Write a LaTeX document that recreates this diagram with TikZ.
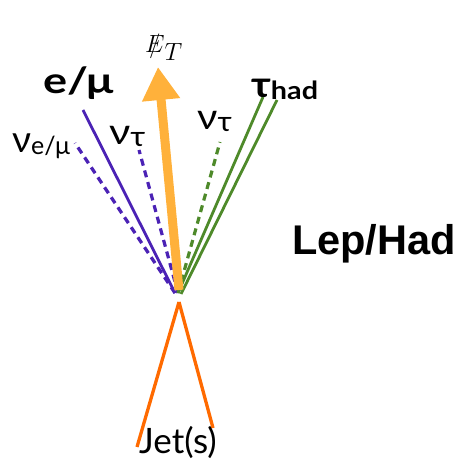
\documentclass[tikz,border=0pt]{standalone}
\usepackage{fontspec}
\setmainfont{Lato}
\newfontfamily\arialb{Liberation Sans}
\usetikzlibrary{arrows.meta}
\definecolor{lepcol}{HTML}{4B22B5}
\definecolor{hadcol}{HTML}{4E8A2A}
\definecolor{metcol}{HTML}{FFB13B}
\definecolor{jetcol}{HTML}{FF6A00}
\begin{document}
\begin{tikzpicture}[x=1pt,y=-1pt,
  lepline/.style={draw=lepcol,line width=2.8pt},
  lepdash/.style={draw=lepcol,line width=3.2pt,dash pattern=on 7pt off 5pt},
  hadline/.style={draw=hadcol,line width=2.8pt},
  haddash/.style={draw=hadcol,line width=3.2pt,dash pattern=on 7pt off 5pt},
  jetline/.style={draw=jetcol,line width=3.3pt},
  metarrow/.style={draw=metcol,line width=9pt,-{Triangle[length=33pt,width=36pt]}},
  lbl/.style={inner sep=0pt,anchor=base west}]
\useasboundingbox (0,0) rectangle (460,462);
% vertex coordinates
\coordinate (vl) at (175,293);
\coordinate (vm) at (178,293);
\coordinate (vr) at (181,294);
\coordinate (vj) at (179,302);
% free ends
\coordinate (lepend) at (83,110);
\coordinate (nuleend) at (75,143);
\coordinate (nutlend) at (139,150);
\coordinate (nutrend) at (220,142);
\coordinate (tauend1) at (263,97);
\coordinate (tauend2) at (277,100);
\coordinate (metend) at (158,67);
\coordinate (metstart) at (179,290);
\coordinate (jetend1) at (137,447);
\coordinate (jetend2) at (213,428);
% lines
\draw[lepdash] (vl) -- (nuleend);
\draw[lepline] (vl) -- (lepend);
\draw[lepdash] (vm) -- (nutlend);
\draw[haddash] (vm) -- (nutrend);
\draw[hadline] (vm) -- (tauend1);
\draw[hadline] (vr) -- (tauend2);
\draw[metarrow] (metstart) -- (metend);
\draw[jetline] (vj) -- (jetend1);
\draw[jetline] (vj) -- (jetend2);
% labels
\node[inner sep=0pt] (met) at (164,48) {\fontsize{37}{40}\selectfont$\hbox{\ooalign{$E$\cr\hfil$/$\hfil\cr}}_T$};
\node[lbl] (lep) at (43,94) {\scalebox{1.25}[1]{\fontsize{36}{40}\selectfont\bfseries e/μ}};
\node[lbl] (nule) at (12,153) {\fontsize{37}{40}\selectfont ν\raisebox{-2pt}{\fontsize{25}{28}\selectfont e/μ}};
\node[lbl] (nutl) at (109,145) {\scalebox{1.15}[1]{\fontsize{36}{38}\selectfont ν\raisebox{-2pt}{\fontsize{28}{30}\selectfont τ}}};
\node[lbl] (nutr) at (197,130) {\scalebox{1.1}[1]{\fontsize{36}{38}\selectfont ν\raisebox{-2pt}{\fontsize{28}{30}\selectfont τ}}};
\node[lbl] (tau) at (251,98) {\scalebox{1.15}[1]{\fontsize{36}{40}\selectfont\bfseries τ\raisebox{-2pt}{\fontsize{25}{28}\selectfont had}}};
\node[lbl] (lh) at (292,254) {\arialb\fontsize{41.5}{44}\selectfont\bfseries Lep/Had};
\node[lbl] (jet) at (139,453) {\fontsize{35}{38}\selectfont Jet(s)};
\end{tikzpicture}
\end{document}
